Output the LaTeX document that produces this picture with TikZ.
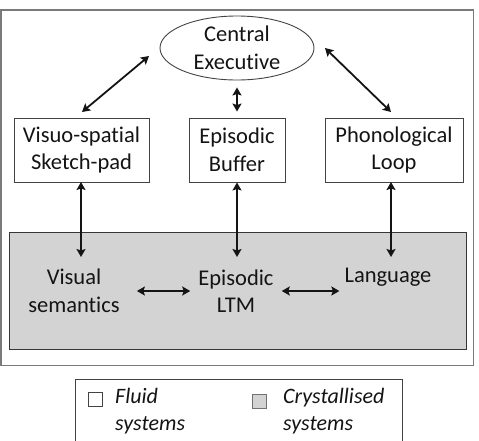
\documentclass[tikz,border=0pt]{standalone}
\usepackage{fontspec}
\setmainfont{Carlito}[Ligatures={NoCommon}]
\usetikzlibrary{shapes.geometric,arrows.meta,calc}
\definecolor{txt}{HTML}{141414}
\definecolor{crys}{HTML}{D3D3D3}
\definecolor{frame}{HTML}{7A7A7A}
\begin{document}
\begin{tikzpicture}[x=1pt,y=-1pt,
  lbl/.style={text=txt,font=\fontsize{22.5}{27.5}\selectfont,align=center,inner sep=0pt},
  box/.style={lbl,draw=txt!80,line width=0.9pt,fill=white},
  arr/.style={{Stealth[length=8pt,width=9pt,inset=1.5pt]}-{Stealth[length=8pt,width=9pt,inset=1.5pt]},line width=1.8pt,draw=txt},
  leg/.style={text=txt,font=\fontsize{22}{27}\selectfont\itshape,align=left,inner sep=0pt,anchor=west}]
\useasboundingbox (0,0) rectangle (479,440);
% outer frame
\draw[frame,line width=1.2pt] (1,10) rectangle (473.5,365.5);
% crystallised area
\path[draw=txt!85,line width=0.9pt,fill=crys] (9,232) rectangle (466,349);
% top nodes
\node[ellipse,draw=txt!80,line width=0.9pt,minimum width=154pt,minimum height=64pt,lbl,inner sep=0pt] (ce) at (237,48) {Central\\Executive};
\node[box,minimum width=135pt,minimum height=64pt] (vs) at (81.5,150) {Visuo-spatial\\Sketch-pad};
\node[box,minimum width=96pt,minimum height=64pt] (eb) at (237,150) {Episodic\\Buffer};
\node[box,minimum width=138pt,minimum height=64pt] (pl) at (394,150) {Phonological\\Loop};
% bottom labels
\node[lbl] (vsem) at (74,291) {Visual\\semantics};
\node[lbl] (eltm) at (236,291) {Episodic\\LTM};
\node[lbl] (lang) at (388,277) {Language};
% coordinates
\coordinate (ceL) at (149,56);
\coordinate (ceR) at (325,48);
\coordinate (vsT) at (82,112);
\coordinate (plT) at (391,112);
\coordinate (vsB) at (81,257);
\coordinate (ebB) at (237,257);
\coordinate (plB) at (391,257);
% arrows
\draw[arr] (vsT) -- (ceL);
\draw[arr] (plT) -- (ceR);
\draw[arr] ([yshift=-7pt]ce.south) -- ([yshift=6pt]eb.north);
\draw[arr] (81,182) -- (vsB);
\draw[arr] (eb.south) -- (ebB);
\draw[arr] (391,182) -- (plB);
\draw[arr] ([xshift=17pt]vsem.east) -- ([xshift=-8pt]eltm.west);
\draw[arr] ([xshift=8pt]eltm.east) -- ([xshift=-5pt]lang.west |- eltm.east);
% legend
\draw[txt!80,line width=0.9pt] (75,445) -- (75,379.5) -- (402,379.5) -- (402,445);
\node[draw=txt!80,line width=0.9pt,fill=white,minimum size=14pt,inner sep=0pt] (wsq) at (95.5,399) {};
\node[draw=txt!60,line width=0.9pt,fill=crys,minimum size=14pt,inner sep=0pt] (gsq) at (259.5,401.5) {};
\node[leg] (fl) at (115,411.5) {Fluid\\systems};
\node[leg] (cr) at (283,411.5) {Crystallised\\systems};
\end{tikzpicture}
\end{document}
